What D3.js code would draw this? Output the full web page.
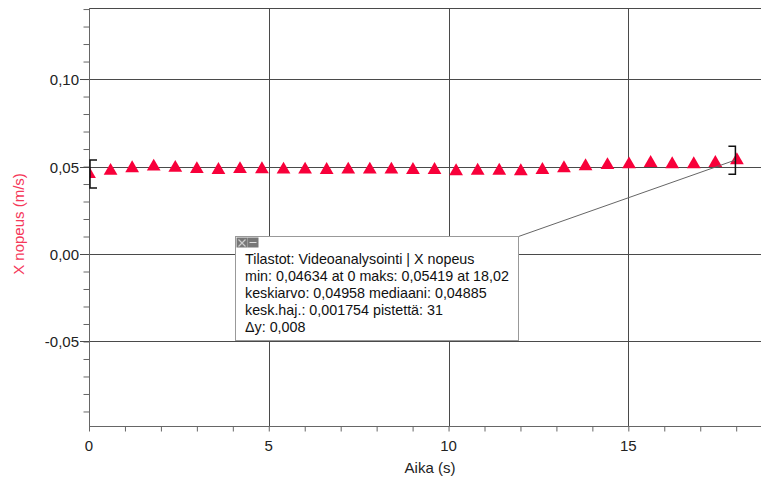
<!DOCTYPE html>
<html>
<head>
<meta charset="utf-8">
<script src="https://cdn.jsdelivr.net/npm/d3@7"></script>
<style>
body { margin: 0; background: #fff; }
text { font-family: "Liberation Sans", Arial, sans-serif; }
</style>
</head>
<body>
<div id="chart"></div>
<script>
// time (s) and X velocity (m/s)
var aika = [0, 0.60, 1.20, 1.80, 2.40, 3.00, 3.60, 4.20, 4.81, 5.41, 6.01, 6.61, 7.21, 7.81, 8.41, 9.01,
            9.61, 10.21, 10.81, 11.41, 12.01, 12.61, 13.21, 13.81, 14.42, 15.02, 15.62, 16.22, 16.82, 17.42, 18.02];
var xNopeus = [0.04634, 0.0481, 0.0496, 0.0505, 0.0498, 0.0491, 0.0486, 0.0491, 0.0490, 0.0488, 0.0488, 0.0486, 0.0488, 0.0488, 0.0488, 0.0486,
               0.0486, 0.0479, 0.0482, 0.0482, 0.0479, 0.0486, 0.0496, 0.0507, 0.0514, 0.0518, 0.0526, 0.0519, 0.0519, 0.0526, 0.05419];
var yMajor = [-0.05, 0, 0.05, 0.10];
var xMajor = [0, 5, 10, 15];
var statLines = [
  "Tilastot: Videoanalysointi | X nopeus",
  "min: 0,04634 at 0 maks: 0,05419 at 18,02",
  "keskiarvo: 0,04958 mediaani: 0,04885",
  "kesk.haj.: 0,001754 pistettä: 31",
  "\u0394y: 0,008"
];

var width = 761, height = 477;
var mLeft = 89, mRight = 761, mTop = 8, mBottom = 426;

var svg = d3.select("#chart").append("svg")
  .attr("width", width).attr("height", height);

var x = d3.scaleLinear().domain([0, 18.69]).range([mLeft, mRight]);
var y = d3.scaleLinear().domain([-0.0983, 0.1406]).range([mBottom, mTop]);

var fmt = function (v) { return d3.format(".2f")(v).replace(".", ",").replace("−", "-"); };

// gridlines
svg.append("g").selectAll("line").data(yMajor).enter().append("line")
  .attr("x1", mLeft).attr("x2", mRight)
  .attr("y1", function (d) { return Math.round(y(d)) + 0.5; })
  .attr("y2", function (d) { return Math.round(y(d)) + 0.5; })
  .attr("stroke", "#4a4a4a");
svg.append("g").selectAll("line").data(xMajor.slice(1)).enter().append("line")
  .attr("y1", mTop).attr("y2", mBottom)
  .attr("x1", function (d) { return Math.round(x(d)) + 0.5; })
  .attr("x2", function (d) { return Math.round(x(d)) + 0.5; })
  .attr("stroke", "#4a4a4a");
// top frame
svg.append("line").attr("x1", mLeft).attr("x2", mRight).attr("y1", mTop + 0.5).attr("y2", mTop + 0.5).attr("stroke", "#4a4a4a");

// y axis
var yAxis = d3.axisLeft(y).tickValues(d3.range(-9, 15).map(function (i) { return i / 100; }))
  .tickSize(6).tickFormat("");
var gy = svg.append("g").attr("transform", "translate(" + (mLeft + 0.5) + ",0)").call(yAxis);
gy.selectAll("line").attr("stroke", "#666");
gy.select(".domain").attr("stroke", "#666").attr("d", "M0," + mTop + "V" + mBottom);
svg.append("g").selectAll("line").data(yMajor).enter().append("line")
  .attr("x1", mLeft - 9).attr("x2", mLeft)
  .attr("y1", function (d) { return Math.round(y(d)) + 0.5; })
  .attr("y2", function (d) { return Math.round(y(d)) + 0.5; })
  .attr("stroke", "#4a4a4a");
svg.append("g").selectAll("text").data(yMajor).enter().append("text")
  .attr("x", mLeft - 10).attr("y", function (d) { return y(d) + 6; })
  .attr("text-anchor", "end").attr("font-size", 15).attr("fill", "#222")
  .text(fmt);

// x axis
var xAxis = d3.axisBottom(x).tickValues(d3.range(0, 19)).tickSize(5).tickFormat("");
var gx = svg.append("g").attr("transform", "translate(0," + (mBottom + 0.5) + ")").call(xAxis);
gx.selectAll("line").attr("stroke", "#666");
gx.select(".domain").attr("stroke", "#666").attr("d", "M" + mLeft + ",0H" + mRight);
svg.append("g").selectAll("text").data(xMajor).enter().append("text")
  .attr("x", function (d) { return x(d); }).attr("y", 451)
  .attr("text-anchor", "middle").attr("font-size", 15).attr("fill", "#222")
  .text(function (d) { return d; });

// axis titles
svg.append("text").attr("x", (mLeft + mRight) / 2 + 5).attr("y", 473)
  .attr("text-anchor", "middle").attr("font-size", 15).attr("fill", "#222").text("Aika (s)");
svg.append("text").attr("transform", "translate(24,224) rotate(-90)")
  .attr("text-anchor", "middle").attr("font-size", 15).attr("fill", "#f5385a").text("X nopeus (m/s)");

// data
svg.append("clipPath").attr("id", "plotclip").append("rect")
  .attr("x", mLeft + 1).attr("y", mTop).attr("width", mRight - mLeft).attr("height", mBottom - mTop);
var pts = d3.range(aika.length).map(function (i) { return { t: aika[i], v: xNopeus[i] }; });
svg.append("g").attr("clip-path", "url(#plotclip)").selectAll("path").data(pts).enter().append("path")
  .attr("d", d3.symbol().type(d3.symbolTriangle).size(82))
  .attr("transform", function (d) { return "translate(" + x(d.t) + "," + (y(d.v) + 1) + ")"; })
  .attr("fill", "#f8003a");

// range brackets
function bracket(px, py, dir) {
  var h = 14;
  svg.append("path")
    .attr("d", "M" + (px + dir * 7) + "," + (py - h) + "H" + px + "V" + (py + h) + "H" + (px + dir * 7))
    .attr("fill", "none").attr("stroke", "#111").attr("stroke-width", 1.5);
}
var first = pts[0], last = pts[pts.length - 1];
bracket(mLeft + 1, y(first.v) + 1, 1);
bracket(x(last.t) - 1.5, y(last.v) + 1, -1);

// stats box
var bx = 235.5, by = 236.5, bw = 283, bh = 104;
svg.append("line").attr("x1", bx + bw).attr("y1", by).attr("x2", x(last.t) - 2).attr("y2", y(last.v) + 1)
  .attr("stroke", "#666");
svg.append("rect").attr("x", bx).attr("y", by).attr("width", bw).attr("height", bh)
  .attr("fill", "#fff").attr("stroke", "#999");
svg.append("rect").attr("x", bx + 1).attr("y", by + 1).attr("width", 11).attr("height", 10).attr("fill", "#777");
svg.append("path").attr("d", "M" + (bx + 3) + "," + (by + 3) + "L" + (bx + 10) + "," + (by + 10) + "M" + (bx + 10) + "," + (by + 3) + "L" + (bx + 3) + "," + (by + 10))
  .attr("stroke", "#ccc").attr("stroke-width", 1.2);
svg.append("rect").attr("x", bx + 12).attr("y", by + 1).attr("width", 11).attr("height", 10).attr("fill", "#777");
svg.append("line").attr("x1", bx + 14).attr("x2", bx + 21).attr("y1", by + 6).attr("y2", by + 6).attr("stroke", "#ddd");
svg.append("g").selectAll("text").data(statLines).enter().append("text")
  .attr("x", 245).attr("y", function (d, i) { return 264 + i * 17; })
  .attr("font-size", 14.3).attr("fill", "#111")
  .text(function (d) { return d; });
</script>
</body>
</html>
